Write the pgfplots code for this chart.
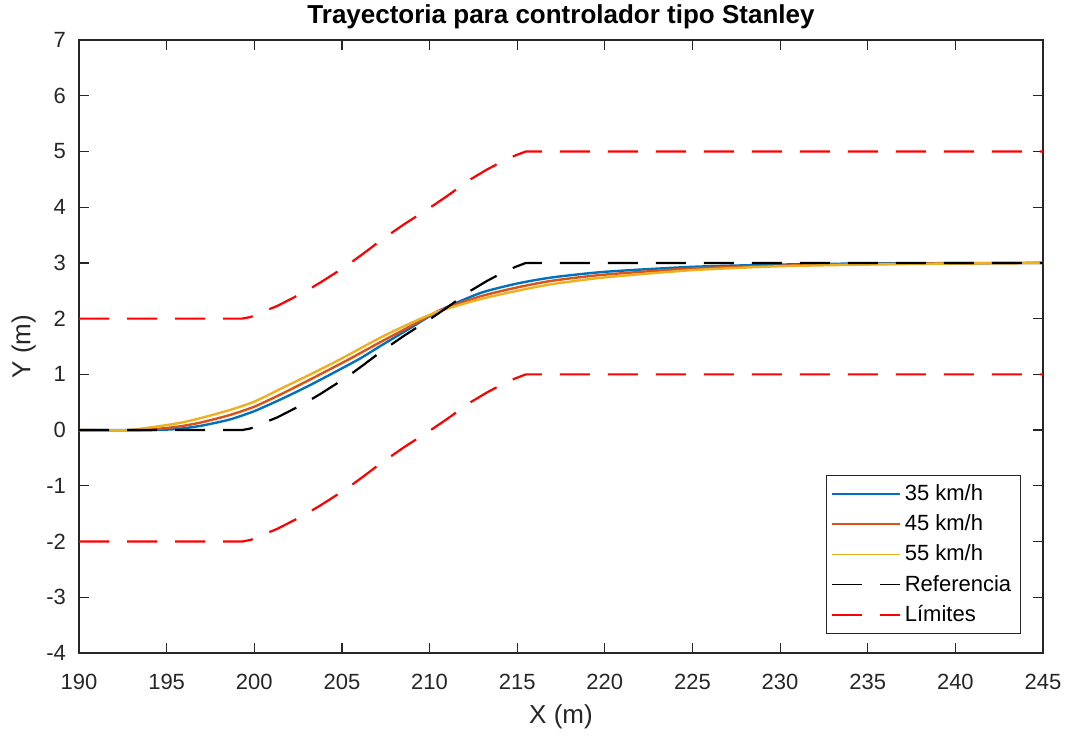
\documentclass[border=0pt]{standalone}
\usepackage{fontspec}
\setmainfont{Liberation Sans}
\usepackage{pgfplots}
\pgfplotsset{compat=1.18}

\definecolor{mblue}{rgb}{0,0.447,0.741}
\definecolor{morange}{rgb}{0.850,0.325,0.098}
\definecolor{myellow}{rgb}{0.929,0.694,0.125}
\definecolor{mgray}{rgb}{0.15,0.15,0.15}

\begin{document}
\begin{tikzpicture}
\begin{axis}[
    scale only axis,
    width=482pt, height=306.5pt,
    xmin=190, xmax=245, ymin=-4, ymax=7,
    xtick={190,195,...,245}, ytick={-4,-3,...,7},
    tick align=inside,
    major tick length=5pt,
    axis line style={mgray, line width=0.6pt},
    every tick/.style={mgray, line width=0.6pt},
    tick label style={font=\fontsize{11}{13}\selectfont, text=mgray},
    xticklabel style={yshift=-7pt},
    yticklabel style={xshift=-3pt},
    /pgf/number format/assume math mode=true,
    /pgf/number format/set thousands separator={},
    title={\textbf{Trayectoria para controlador tipo Stanley}},
    title style={font=\fontsize{13}{15}\selectfont, at={(axis description cs:0.5,1.018)}, anchor=center},
    xlabel={X (m)},
    ylabel={Y (m)},
    xlabel style={font=\fontsize{13}{15}\selectfont, text=mgray, at={(axis description cs:0.5,-0.1045)}, anchor=center},
    ylabel style={font=\fontsize{13}{15}\selectfont, text=mgray, at={(axis description cs:-0.0575,0.5)}, anchor=center},
    legend cell align=left,
    legend style={at={(axis description cs:0.977,0.031)}, anchor=south east,
        draw=mgray, line width=0.6pt, font=\fontsize{11}{13}\selectfont,
        row sep=1.6pt, inner sep=2.5pt},
    legend image code/.code={\draw[#1, line width=0.8pt] (0pt,0pt) -- (34pt,0pt);},
]

% 35 km/h
\addplot[mblue, line width=1.2pt, smooth, tension=0.4] coordinates {
    (190,0) (194,0) (195.6,0.02) (197,0.08) (198.6,0.19) (200,0.34) (201.5,0.55)
    (203.2,0.81) (205.9,1.26) (207.2,1.51) (209,1.85) (210.6,2.15) (212.9,2.46)
    (215,2.63) (217,2.74) (220,2.84) (225,2.93) (230,2.97) (235,2.99) (245,3)
};
\addlegendentry{35 km/h}

% 45 km/h
\addplot[morange, line width=1.2pt, smooth, tension=0.4] coordinates {
    (190,0) (193.5,0) (195.6,0.06) (197,0.14) (198.6,0.27) (200,0.42) (201.5,0.64)
    (203.2,0.91) (205.4,1.27) (207.2,1.58) (209,1.88) (210.6,2.15) (212.9,2.40)
    (215,2.56) (217,2.68) (220,2.79) (225,2.90) (230,2.95) (235,2.98) (245,3)
};
\addlegendentry{45 km/h}

% 55 km/h
\addplot[myellow, line width=1.2pt, smooth, tension=0.4] coordinates {
    (190,0) (192.8,0) (195.6,0.12) (197,0.22) (198.6,0.36) (200,0.51) (201.5,0.74)
    (203.2,1.00) (204.9,1.27) (207.2,1.66) (209,1.93) (210.6,2.14) (212.9,2.35)
    (215,2.50) (217,2.62) (220,2.74) (225,2.87) (230,2.94) (235,2.97) (240,2.99) (245,3)
};
\addlegendentry{55 km/h}

% Referencia
\addplot[black, line width=1.1pt, dash pattern=on 15pt off 9pt] coordinates {
    (190,0) (199.3,0) (199.8,0.03) (200.3,0.10) (201.3,0.226) (202.86,0.477)
    (203.81,0.656) (205.3,0.955) (206.21,1.165) (207.2,1.40) (208.53,1.69)
    (210.02,1.99) (210.91,2.18) (212.34,2.50) (213.3,2.68) (214.2,2.83)
    (214.91,2.93) (215.5,3) (245,3)
};
\addlegendentry{Referencia}

% Limites
\addplot[red, line width=1.1pt, dash pattern=on 15pt off 9pt] coordinates {
    (190,2) (199.3,2) (199.8,2.03) (200.3,2.10) (201.3,2.226) (202.86,2.477)
    (203.81,2.656) (205.3,2.955) (206.21,3.165) (207.2,3.40) (208.53,3.69)
    (210.02,3.99) (210.91,4.18) (212.34,4.50) (213.3,4.68) (214.2,4.83)
    (214.91,4.93) (215.5,5) (245,5)
};
\addlegendentry{Límites}

\addplot[red, line width=1.1pt, dash pattern=on 15pt off 9pt, forget plot] coordinates {
    (190,-2) (199.3,-2) (199.8,-1.97) (200.3,-1.90) (201.3,-1.774) (202.86,-1.523)
    (203.81,-1.344) (205.3,-1.045) (206.21,-0.835) (207.2,-0.60) (208.53,-0.31)
    (210.02,-0.01) (210.91,0.18) (212.34,0.50) (213.3,0.68) (214.2,0.83)
    (214.91,0.93) (215.5,1) (245,1)
};

\end{axis}
\pgfresetboundingbox
\path[use as bounding box] ([shift={(-39.5pt,-41pt)}]current axis.south west)
    rectangle ([shift={(12.5pt,20pt)}]current axis.north east);
\end{tikzpicture}
\end{document}
